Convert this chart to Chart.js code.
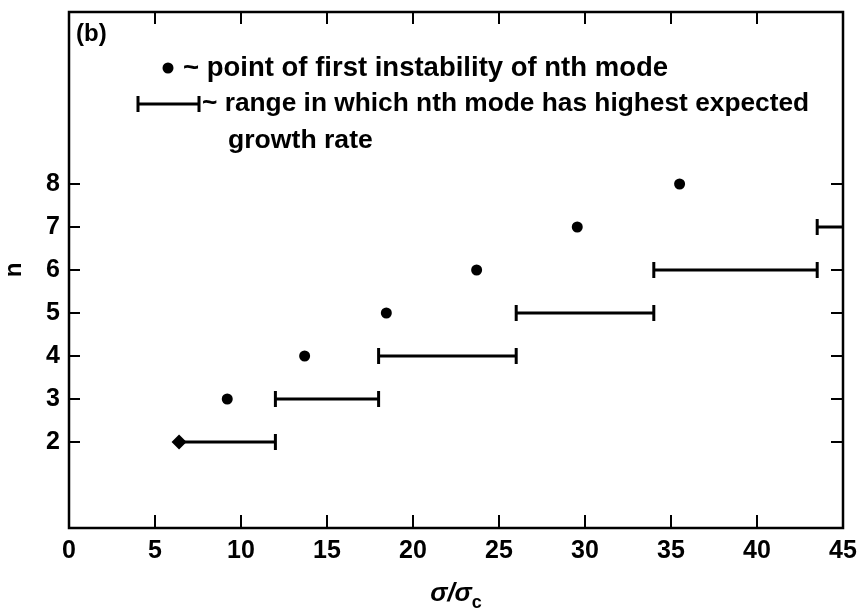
<!DOCTYPE html>
<html>
<head>
<meta charset="utf-8">
<script src="https://cdn.jsdelivr.net/npm/chart.js@4"></script>
<style>
  html, body { margin: 0; padding: 0; background: #fff; }
  #wrap { width: 859px; height: 615px; }
</style>
</head>
<body>
<div id="wrap"><canvas id="myChart" width="859" height="615"></canvas></div>
<script>
// point of first instability of nth mode
const onsetN = [2, 3, 4, 5, 6, 7, 8];
const onsetX = [6.4, 9.2, 13.7, 18.45, 23.7, 29.55, 35.5];

// range in which nth mode has highest expected growth rate
const rangeN = [2, 3, 4, 5, 6, 7];
const rangeStart = [6.4, 12, 18, 26, 34, 43.5];
const rangeEnd = [12, 18, 26, 34, 43.5, 45];

const xTicks = [0, 5, 10, 15, 20, 25, 30, 35, 40, 45];
const yTicks = [2, 3, 4, 5, 6, 7, 8];

const panelLabel = "(b)";
const legendLines = [
  "~ point of first instability of nth mode",
  "~ range in which nth mode has highest expected",
  "growth rate"
];

const X_MIN = 0, X_MAX = 45, Y_MIN = 0, Y_MAX = 12;
const INK = "#000";
const FONT = "'Liberation Sans', Arial, sans-serif";

const rangeSets = rangeN.map((n, i) => {
  const startIsOnset = onsetX[onsetN.indexOf(n)] === rangeStart[i];
  const endAtEdge = rangeEnd[i] >= X_MAX;
  return {
    type: "line",
    data: [{ x: rangeStart[i], y: n }, { x: rangeEnd[i], y: n }],
    borderColor: INK,
    borderWidth: 3,
    pointStyle: "line",
    rotation: 90,
    pointRadius: [startIsOnset ? 0 : 8, endAtEdge ? 0 : 8],
    pointBorderWidth: 3,
    pointBorderColor: INK,
    pointBackgroundColor: INK,
    clip: false
  };
});

const pointSet = {
  type: "scatter",
  data: onsetX.map((x, i) => ({ x: x, y: onsetN[i] })),
  pointStyle: onsetX.map((x) => rangeStart.includes(x) ? "rectRot" : "circle"),
  pointRadius: onsetX.map((x) => rangeStart.includes(x) ? 7.5 : 5.5),
  backgroundColor: INK,
  borderColor: INK,
  borderWidth: 0
};

// draw a line of text squeezed/stretched to a given width
function fitText(ctx, text, x, y, width) {
  ctx.font = "bold 20px " + FONT;
  const size = 20 * width / ctx.measureText(text).width;
  ctx.font = "bold " + size.toFixed(1) + "px " + FONT;
  ctx.fillText(text, x, y);
}

const framePlugin = {
  id: "frame",
  afterDraw(chart) {
    const ctx = chart.ctx;
    const a = chart.chartArea;
    const xs = chart.scales.x, ys = chart.scales.y;
    ctx.save();
    ctx.strokeStyle = INK;
    ctx.lineWidth = 2.5;
    ctx.strokeRect(a.left, a.top, a.right - a.left, a.bottom - a.top);
    // inward tick marks
    ctx.lineWidth = 2;
    ctx.beginPath();
    xTicks.forEach(v => {
      if (v === X_MIN || v === X_MAX) return;
      const px = xs.getPixelForValue(v);
      ctx.moveTo(px, a.bottom); ctx.lineTo(px, a.bottom - 13);
      ctx.moveTo(px, a.top); ctx.lineTo(px, a.top + 12);
    });
    yTicks.forEach(v => {
      const py = ys.getPixelForValue(v);
      ctx.moveTo(a.left, py); ctx.lineTo(a.left + 11, py);
      ctx.moveTo(a.right, py); ctx.lineTo(a.right - 12, py);
    });
    ctx.stroke();

    // panel label and legend
    ctx.fillStyle = INK;
    ctx.textBaseline = "middle";
    ctx.textAlign = "left";
    ctx.font = "bold 24px " + FONT;
    ctx.fillText(panelLabel, 76, 34);

    fitText(ctx, legendLines[0], 183, 68, 485);
    fitText(ctx, legendLines[1], 202, 104, 608);
    fitText(ctx, legendLines[2], 228, 141, 145);

    // legend glyphs
    ctx.beginPath();
    ctx.arc(168, 68, 5.5, 0, Math.PI * 2);
    ctx.fill();
    ctx.lineWidth = 3;
    ctx.beginPath();
    ctx.moveTo(138, 104); ctx.lineTo(199, 104);
    ctx.moveTo(138, 96); ctx.lineTo(138, 112);
    ctx.moveTo(199, 96); ctx.lineTo(199, 112);
    ctx.stroke();

    // x axis title with subscript
    const cx = (a.left + a.right) / 2;
    ctx.font = "bold italic 26px " + FONT;
    const main = "σ/σ";
    const mw = ctx.measureText(main).width;
    ctx.font = "bold 18px " + FONT;
    const sw = ctx.measureText("c").width;
    const x0 = cx - (mw + sw) / 2;
    ctx.font = "bold italic 26px " + FONT;
    ctx.textBaseline = "alphabetic";
    ctx.fillText(main, x0, 601);
    ctx.font = "bold 18px " + FONT;
    ctx.fillText("c", x0 + mw, 608);
    ctx.restore();
  }
};

function noPad(scale) {
  scale.paddingTop = 0;
  scale.paddingBottom = 0;
  scale.paddingLeft = 0;
  scale.paddingRight = 0;
}

const config = {
  data: { datasets: [pointSet, ...rangeSets] },
  options: {
    responsive: false,
    animation: false,
    layout: { padding: { top: 12, right: 16, left: 0, bottom: 0 } },
    plugins: {
      legend: { display: false },
      tooltip: { enabled: false },
      title: { display: false }
    },
    scales: {
      x: {
        type: "linear",
        min: X_MIN,
        max: X_MAX,
        afterBuildTicks: (scale) => { scale.ticks = xTicks.map(v => ({ value: v })); },
        afterFit: (scale) => { scale.height = 87; noPad(scale); },
        grid: { display: false, drawTicks: false },
        border: { display: false },
        ticks: {
          color: INK,
          padding: 8,
          maxRotation: 0,
          font: { family: FONT, size: 25, weight: "bold" }
        }
      },
      y: {
        type: "linear",
        min: Y_MIN,
        max: Y_MAX,
        afterBuildTicks: (scale) => { scale.ticks = yTicks.map(v => ({ value: v })); },
        afterFit: (scale) => { scale.width = 69; noPad(scale); },
        grid: { display: false, drawTicks: false },
        border: { display: false },
        title: {
          display: true,
          text: "n",
          color: INK,
          padding: 0,
          font: { family: FONT, size: 24, weight: "bold" }
        },
        ticks: {
          color: INK,
          padding: 9,
          font: { family: FONT, size: 25, weight: "bold" }
        }
      }
    }
  },
  plugins: [framePlugin]
};

new Chart(document.getElementById("myChart").getContext("2d"), config);
</script>
</body>
</html>
